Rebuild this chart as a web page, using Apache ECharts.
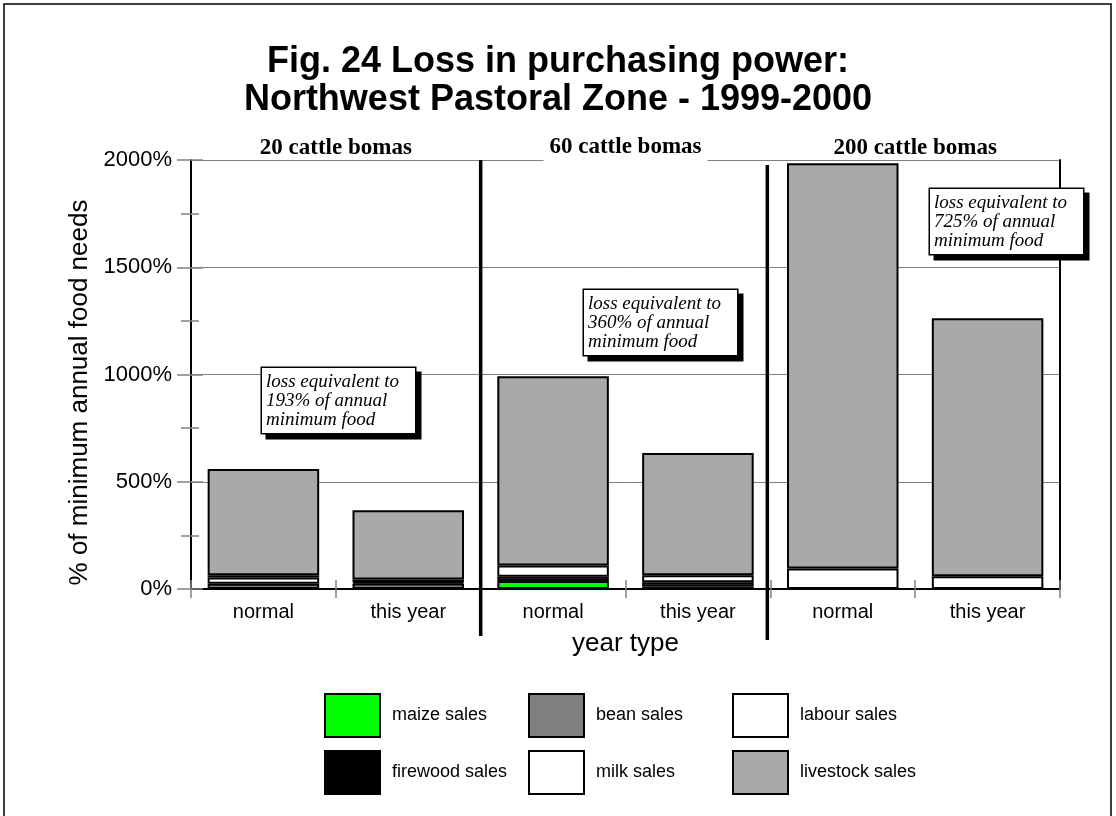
<!DOCTYPE html>
<html>
<head>
<meta charset="utf-8">
<script src="https://cdn.jsdelivr.net/npm/echarts@6/dist/echarts.min.js"></script>
<style>
html,body{margin:0;padding:0;background:#fff;}
#chart{width:1116px;height:816px;}
</style>
</head>
<body>
<div id="chart"></div>
<script>
// ---- data ----
const categories = ['normal', 'this year', 'normal', 'this year', 'normal', 'this year'];
const groups = ['20 cattle bomas', '60 cattle bomas', '200 cattle bomas'];
const seriesNames = ['maize sales', 'bean sales', 'labour sales', 'firewood sales', 'milk sales', 'livestock sales'];
const maize     = [0, 0, 37, 12, 0, 0];
const bean      = [24, 26, 20, 20, 0, 0];
const labour    = [30, 0, 0, 0, 0, 0];
const firewood  = [10, 6, 0, 0, 0, 0];
const milk      = [0, 12, 52, 32, 95, 60];
const livestock = [496, 323, 883, 570, 1890, 1202];
const yMin = 0, yMax = 2000, yStep = 500;
const annotations = [
  'loss equivalent to\n193% of annual\nminimum food',
  'loss equivalent to\n360% of annual\nminimum food',
  'loss equivalent to\n725% of annual\nminimum food'
];

const colors = ['#00ff00', '#808080', '#ffffff', '#000000', '#ffffff', '#a9a9a9'];
const values = [maize, bean, labour, firewood, milk, livestock];

const chart = echarts.init(document.getElementById('chart'), null, {renderer: 'canvas'});
const sans = '"Liberation Sans", Arial, sans-serif';
const serif = '"Liberation Serif", "Times New Roman", serif';
const grid = '#808080';

const series = seriesNames.map((name, i) => ({
  name: name,
  type: 'bar',
  stack: 'total',
  xAxisIndex: 0,
  yAxisIndex: 0,
  barWidth: '77%',
  itemStyle: {color: colors[i], borderColor: '#000', borderWidth: 2},
  emphasis: {disabled: true},
  data: values[i].map(v => v === 0 ? '-' : v)
}));

const legendCommon = {
  orient: 'vertical', top: 693, padding: 0, itemWidth: 55, itemHeight: 43, itemGap: 12,
  icon: 'rect', selectedMode: false,
  textStyle: {fontFamily: sans, fontSize: 18, color: '#000', padding: [0, 0, 0, 7]}
};

const option = {
  animation: false,
  backgroundColor: '#fff',
  title: {
    text: 'Fig. 24 Loss in purchasing power:\nNorthwest Pastoral Zone - 1999-2000',
    left: 'center', top: 43, padding: 0,
    textStyle: {fontFamily: sans, fontSize: 36, fontWeight: 'bold', color: '#000', lineHeight: 38}
  },
  legend: [
    Object.assign({left: 324, data: ['maize sales', 'firewood sales']}, legendCommon),
    Object.assign({left: 528, data: ['bean sales', 'milk sales']}, legendCommon),
    Object.assign({left: 732, data: ['labour sales', 'livestock sales']}, legendCommon)
  ],
  grid: {left: 191, right: 56, top: 160, bottom: 227, containLabel: false},
  xAxis: [
    {
      type: 'category', data: categories, position: 'bottom',
      axisLine: {lineStyle: {color: '#000', width: 2}},
      axisTick: {show: true, length: 9, lineStyle: {color: grid, width: 1.5}},
      axisLabel: {fontFamily: sans, fontSize: 20, color: '#000', margin: 13},
      name: 'year type', nameLocation: 'middle', nameGap: 42,
      nameTextStyle: {fontFamily: sans, fontSize: 26, color: '#000'}
    },
    {
      type: 'category', data: categories, position: 'bottom',
      axisLine: {show: false},
      axisTick: {show: true, inside: true, length: 9, lineStyle: {color: grid, width: 1.5}},
      axisLabel: {show: false}
    },
    {
      type: 'category', data: groups, position: 'top',
      axisLine: {lineStyle: {color: '#000', width: 2}},
      axisTick: {show: false},
      axisLabel: {
        margin: -3,
        formatter: (v, i) => i === 1 ? '{w|' + v + '}' : '{n|' + v + '}',
        rich: {
          n: {fontFamily: serif, fontWeight: 'bold', fontSize: 23, color: '#000', padding: [0, 0, 7, 0], lineHeight: 23},
          w: {fontFamily: serif, fontWeight: 'bold', fontSize: 23, color: '#000', padding: [2, 6, 11, 6], lineHeight: 23, backgroundColor: '#fff'}
        }
      }
    }
  ],
  yAxis: [
    {
      type: 'value', min: yMin, max: yMax, interval: yStep, position: 'left',
      axisLine: {show: true, lineStyle: {color: '#000', width: 2}},
      axisTick: {show: true, length: 14, lineStyle: {color: grid, width: 1.5}},
      minorTick: {show: true, splitNumber: 2, length: 10, lineStyle: {color: grid, width: 1.5}},
      splitLine: {show: true, lineStyle: {color: grid, width: 1}},
      axisLabel: {formatter: v => v + '%', fontFamily: sans, fontSize: 22, color: '#000', margin: 19},
      name: '% of minimum annual food needs', nameLocation: 'middle', nameGap: 68,
      nameTextStyle: {fontFamily: sans, fontSize: 26, color: '#000', padding: [0, 36, 0, 0]}
    },
    {
      type: 'value', min: yMin, max: yMax, interval: yStep, position: 'left',
      axisLine: {show: false},
      axisTick: {show: true, inside: true, length: 12, lineStyle: {color: grid, width: 1.5}},
      minorTick: {show: true, splitNumber: 2, length: 8, lineStyle: {color: grid, width: 1.5}},
      splitLine: {show: false},
      axisLabel: {show: false}
    },
    {
      type: 'value', min: yMin, max: yMax, interval: yStep, position: 'right',
      axisLine: {show: true, lineStyle: {color: '#000', width: 2}},
      axisTick: {show: false}, splitLine: {show: false}, axisLabel: {show: false}
    }
  ],
  series: series
};
chart.setOption(option);

// separators and annotations placed from axis positions
const xc = i => chart.convertToPixel({xAxisIndex: 0}, i);
const yTop = chart.convertToPixel({yAxisIndex: 0}, yMax);
const yZero = chart.convertToPixel({yAxisIndex: 0}, yMin);
const sep1 = (xc(1) + xc(2)) / 2;
const sep2 = (xc(3) + xc(4)) / 2 - 3;

function annot(text, x, y) {
  return {
    type: 'text', x: x, y: y, z: 100,
    style: {
      text: text, fontFamily: serif, fontStyle: 'italic', fontSize: 19, lineHeight: 19,
      fill: '#000', backgroundColor: '#fff', borderColor: '#000', borderWidth: 1.5,
      padding: [4, 4, 4, 4], width: 145,
      shadowColor: '#000', shadowOffsetX: 5, shadowOffsetY: 5, shadowBlur: 0
    }
  };
}

chart.setOption({
  graphic: [
    {type: 'rect', z: 50, shape: {x: 4, y: 4, width: 1107, height: 860}, style: {fill: 'none', stroke: '#000', lineWidth: 1.5}},
    {type: 'line', z: 60, shape: {x1: sep1, y1: yTop, x2: sep1, y2: yZero + 47}, style: {stroke: '#000', lineWidth: 3.5}},
    {type: 'line', z: 60, shape: {x1: sep2, y1: yTop + 5, x2: sep2, y2: yZero + 51}, style: {stroke: '#000', lineWidth: 3.5}},
    annot(annotations[0], 262, 368),
    annot(annotations[1], 584, 290),
    annot(annotations[2], 930, 189)
  ]
});
</script>
</body>
</html>
